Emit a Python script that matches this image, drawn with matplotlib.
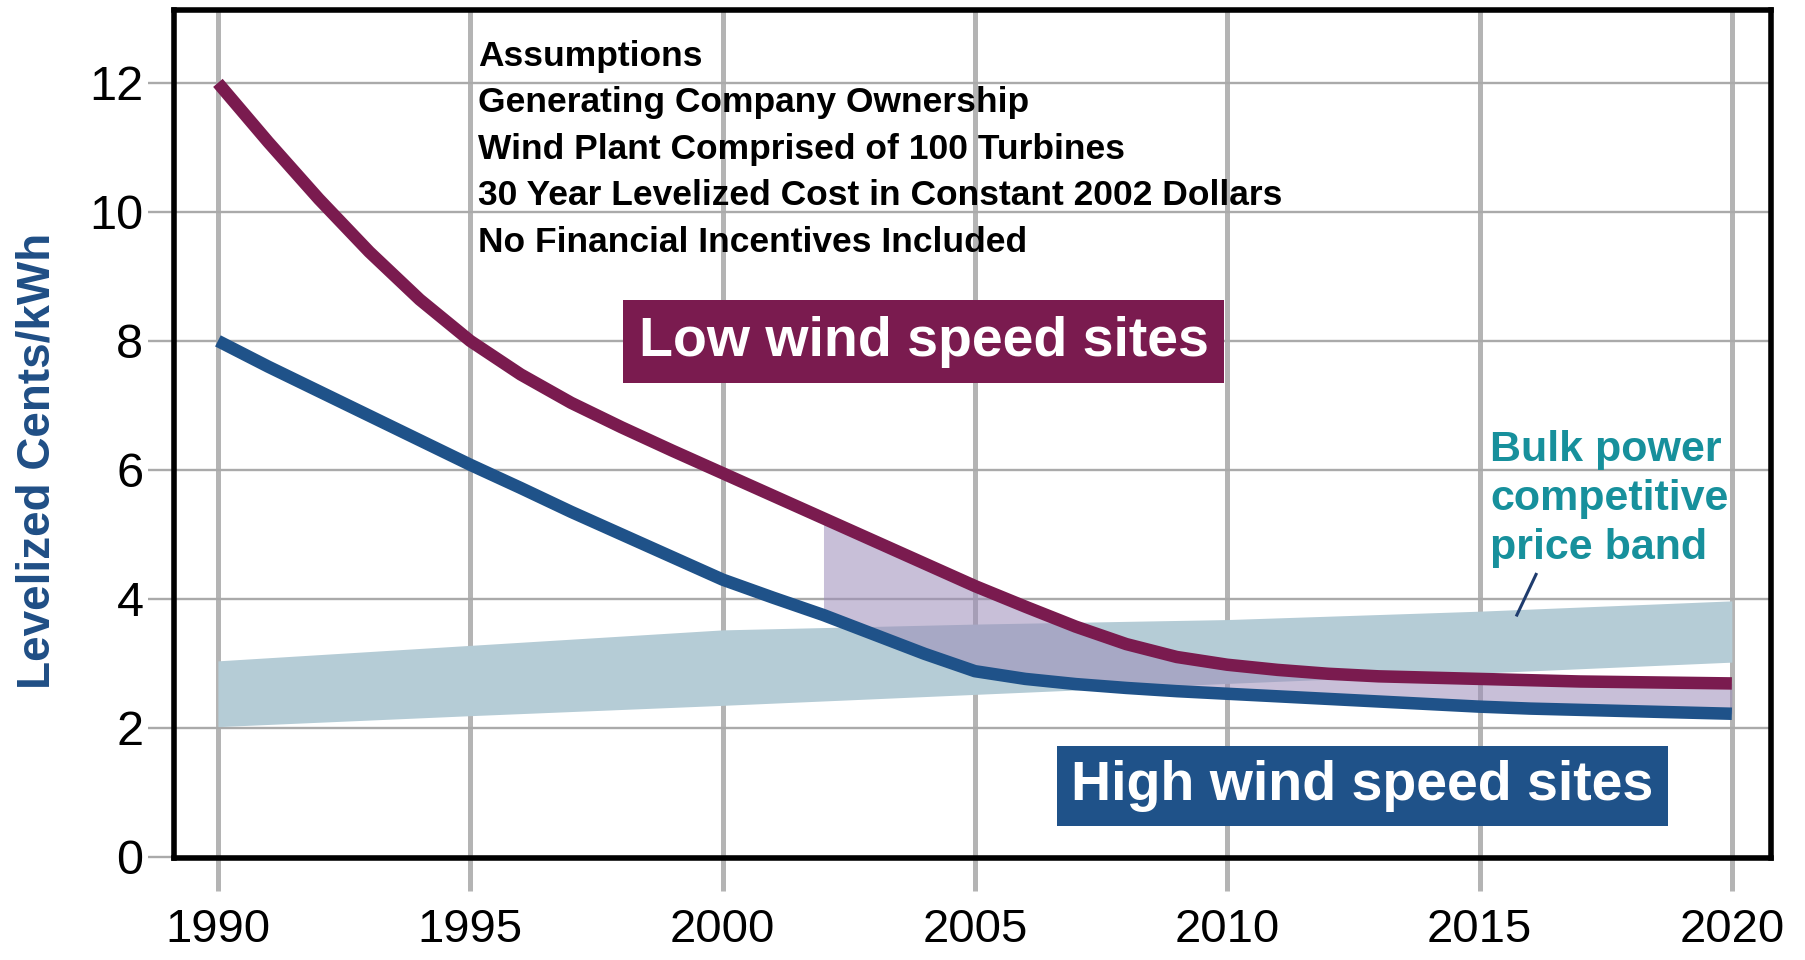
import numpy as np
import matplotlib
matplotlib.use("Agg")
import matplotlib.pyplot as plt

plt.rcParams['font.family'] = ['Liberation Sans', 'DejaVu Sans']

# values (cents/kWh)
years = [1990, 1991, 1992, 1993, 1994, 1995, 1996, 1997, 1998, 1999, 2000,
         2001, 2002, 2003, 2004, 2005, 2006, 2007, 2008, 2009, 2010,
         2011, 2012, 2013, 2014, 2015, 2016, 2017, 2018, 2019, 2020]
low_wind = [12.0, 11.08, 10.2, 9.38, 8.64, 8.0, 7.48, 7.04, 6.66, 6.3, 5.95,
            5.6, 5.25, 4.9, 4.55, 4.2, 3.88, 3.57, 3.3, 3.1, 2.98,
            2.9, 2.84, 2.8, 2.78, 2.76, 2.74, 2.72, 2.71, 2.7, 2.69]
high_wind = [8.0, 7.6, 7.22, 6.84, 6.46, 6.08, 5.72, 5.35, 5.0, 4.65, 4.3,
             4.02, 3.75, 3.45, 3.15, 2.88, 2.76, 2.68, 2.62, 2.57, 2.53,
             2.49, 2.45, 2.41, 2.37, 2.33, 2.3, 2.28, 2.26, 2.24, 2.22]

band_years = [1990, 1995, 2000, 2005, 2010, 2015, 2020]
band_low = [2.02, 2.19, 2.35, 2.52, 2.69, 2.85, 3.02]
band_high = [3.04, 3.28, 3.52, 3.61, 3.68, 3.81, 3.97]

gap_start = 2002  # shaded gap between the two curves starts here

assumptions = ["Assumptions",
               "Generating Company Ownership",
               "Wind Plant Comprised of 100 Turbines",
               "30 Year Levelized Cost in Constant 2002 Dollars",
               "No Financial Incentives Included"]

xticks = [1990, 1995, 2000, 2005, 2010, 2015, 2020]
yticks = [0, 2, 4, 6, 8, 10, 12]

maroon = '#7A1B4F'
blue = '#1F5289'
teal = '#17909C'
grid_gray = '#B4B4B4'

fig = plt.figure(figsize=(18.05, 9.6), dpi=100)
ax = fig.add_axes([0.0964, 0.106, 0.8846, 0.8836])

ax.fill_between(band_years, band_low, band_high, color='#B5CCD6', lw=0, zorder=1)

yrs = np.array(years)
lo = np.array(low_wind)
hi = np.array(high_wind)
m = yrs >= gap_start
ax.fill_between(yrs[m], hi[m], lo[m], color='#9C8CB8', alpha=0.55, lw=0, zorder=2)

ax.plot(years, high_wind, color=blue, lw=9, solid_capstyle='butt',
        solid_joinstyle='round', zorder=3)
ax.plot(years, low_wind, color=maroon, lw=9, solid_capstyle='butt',
        solid_joinstyle='round', zorder=4)

ax.set_xlim(1989.13, 2020.77)
ax.set_ylim(-0.02, 13.13)
ax.set_xticks(xticks)
ax.set_yticks(yticks)
ax.tick_params(axis='x', direction='out', length=24, width=3.6, color=grid_gray,
               labelsize=34, pad=12)
ax.tick_params(axis='y', direction='out', length=19, width=1.7, color='#AAAAAA',
               labelsize=35, pad=3)
ax.set_axisbelow(True)
ax.grid(axis='x', color=grid_gray, lw=3.6)
ax.grid(axis='y', color='#AAAAAA', lw=1.7)
for s in ax.spines.values():
    s.set_linewidth(4)
    s.set_color('black')
    s.set_zorder(6)

# assumptions block
for i, line in enumerate(assumptions):
    ax.text(1995.16, 12.41 - 0.72 * i, line, fontsize=25.5, fontweight='bold',
            ha='left', va='center', color='black', zorder=5)

ax.text(2003.99, 7.99, "Low wind speed sites", fontsize=40, fontweight='bold',
        color='white', ha='center', va='center', zorder=5,
        bbox=dict(boxstyle='square,pad=0.28', fc=maroon, ec='none'))
ax.text(2012.68, 1.1, "High wind speed sites", fontsize=40, fontweight='bold',
        color='white', ha='center', va='center', zorder=5,
        bbox=dict(boxstyle='square,pad=0.26', fc=blue, ec='none'))

ax.text(2015.21, 5.55, "Bulk power\ncompetitive\nprice band", fontsize=31,
        fontweight='bold', color=teal, ha='left', va='center',
        linespacing=1.3, zorder=5)
ax.plot([2016.12, 2015.74], [4.38, 3.75], color='#1F3C6E', lw=2.2, zorder=5)

fig.text(0.021, 0.52, "Levelized Cents/kWh", rotation=90, fontsize=33,
         fontweight='bold', color='#1F4E85', ha='center', va='center')

fig.savefig("out.png", dpi=100)
